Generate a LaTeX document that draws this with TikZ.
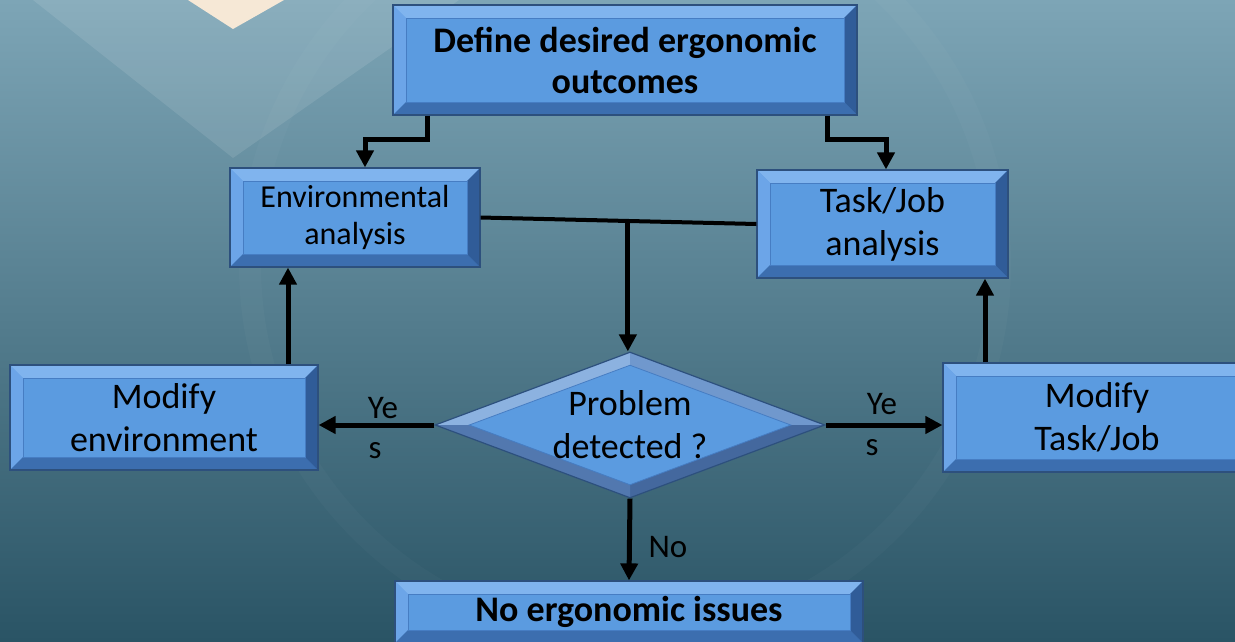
\documentclass[tikz,border=0pt]{standalone}
\usepackage{fontspec}
\setmainfont{Carlito}
\usetikzlibrary{shapes.geometric,arrows.meta,calc}

% palette
\definecolor{face}{RGB}{91,155,224}
\definecolor{facerim}{RGB}{70,125,195}
\definecolor{bvtop}{RGB}{128,180,238}
\definecolor{bvleft}{RGB}{108,165,232}
\definecolor{bvbot}{RGB}{60,110,175}
\definecolor{bvright}{RGB}{48,92,152}
\definecolor{rim}{RGB}{45,80,125}
\definecolor{dtop}{RGB}{140,178,224}
\definecolor{dtopr}{RGB}{112,152,205}
\definecolor{dbot}{RGB}{68,104,158}
\definecolor{dbotl}{RGB}{82,120,175}
\definecolor{bgtop}{RGB}{125,165,182}
\definecolor{bgmid}{RGB}{82,128,146}
\definecolor{bgbot}{RGB}{42,84,101}
\definecolor{cream}{RGB}{246,232,214}

\tikzset{
  % raised rectangle: four sloped facets around a flat face
  bevel/.style={path picture={
    \path (path picture bounding box.north west) coordinate (pNW)
          (path picture bounding box.north east) coordinate (pNE)
          (path picture bounding box.south west) coordinate (pSW)
          (path picture bounding box.south east) coordinate (pSE);
    \fill[bvtop] (pNW) -- (pNE) -- ($(pNE)+(-#1,-#1)$) -- ($(pNW)+(#1,-#1)$) -- cycle;
    \fill[bvleft] (pNW) -- (pSW) -- ($(pSW)+(#1,#1)$) -- ($(pNW)+(#1,-#1)$) -- cycle;
    \fill[bvbot] (pSW) -- (pSE) -- ($(pSE)+(-#1,#1)$) -- ($(pSW)+(#1,#1)$) -- cycle;
    \fill[bvright] (pNE) -- (pSE) -- ($(pSE)+(-#1,#1)$) -- ($(pNE)+(-#1,-#1)$) -- cycle;
    \draw[facerim, line width=0.8pt] ($(pNW)+(#1,-#1)$) rectangle ($(pSE)+(-#1,#1)$);
  }},
  % raised diamond
  dbevel/.style={path picture={
    \path (path picture bounding box.north) coordinate (dN)
          (path picture bounding box.south) coordinate (dS)
          (path picture bounding box.east) coordinate (dE)
          (path picture bounding box.west) coordinate (dW);
    \path ($(dN)+(0,-13pt)$) coordinate (iN)
          ($(dS)+(0,13pt)$) coordinate (iS)
          ($(dE)+(-34pt,0)$) coordinate (iE)
          ($(dW)+(34pt,0)$) coordinate (iW);
    \fill[dtop] (dW) -- (dN) -- (iN) -- (iW) -- cycle;
    \fill[dtopr] (dN) -- (dE) -- (iE) -- (iN) -- cycle;
    \fill[dbot] (dE) -- (dS) -- (iS) -- (iE) -- cycle;
    \fill[dbotl] (dS) -- (dW) -- (iW) -- (iS) -- cycle;
    \draw[facerim, line width=0.8pt] (iN) -- (iE) -- (iS) -- (iW) -- cycle;
  }},
  box/.style={rectangle, draw=rim, line width=1.2pt, fill=face,
    align=center, inner sep=0pt, bevel=13pt},
  conn/.style={line width=5pt, -{Triangle[length=17pt,width=17pt]}},
  lbl/.style={inner sep=0pt, font=\fontsize{33}{40}\selectfont},
}

\begin{document}
\begin{tikzpicture}[x=1pt,y=-1pt]
\clip (0,0) rectangle (1235,641);
\useasboundingbox (0,0) rectangle (1235,641);

% backdrop
\shade[top color=bgtop, middle color=bgmid, bottom color=bgbot] (0,0) rectangle (1235,641);
\fill[white, opacity=0.10] (33,0) -- (233,158) -- (459,0) -- cycle;
\draw[white, opacity=0.025, line width=22pt] (625,265) circle (375);
\fill[cream] (188,0) -- (233,29) -- (284,0) -- cycle;

% boxes
\node[box, minimum width=464, minimum height=110,
      font=\bfseries\fontsize{36}{41}\selectfont] (goal) at (625,60)
      {Define desired ergonomic\\outcomes};
\node[box, minimum width=250, minimum height=99,
      font=\fontsize{32}{37}\selectfont] (env) at (355,217.5)
      {Environmental\\analysis};
\node[box, minimum width=251, minimum height=108,
      font=\fontsize{36}{43}\selectfont] (task) at (882.5,224)
      {Task/Job\\analysis};
\node[box, minimum width=308, minimum height=105,
      font=\fontsize{36}{43}\selectfont] (modenv) at (164,417.5)
      {Modify\\environment};
\node[box, minimum width=308, minimum height=109,
      font=\fontsize{36}{43}\selectfont] (modtask) at (1097,417.5)
      {Modify\\Task/Job};
\node[diamond, aspect=2.67, draw=rim, line width=1.2pt, fill=face, inner sep=0pt,
      minimum width=390, minimum height=146, align=center, dbevel,
      font=\fontsize{36}{43}\selectfont] (dec) at (630,425)
      {Problem\\detected ?};
\node[box, minimum width=468, minimum height=62,
      font=\bfseries\fontsize{36}{41}\selectfont] (done) at (629,612)
      {No ergonomic issues};

% connectors
\draw[conn] ([xshift=-198]goal.south) -- ++(0,24) -| ([xshift=10]env.north);
\draw[conn] ([xshift=202]goal.south) -- ++(0,24) -| ([xshift=3.5]task.north);
\draw[line width=4pt] (env.east) -- (task.west);
\coordinate (join) at ($(env.east)!0.534!(task.west)$);
\draw[conn] (join) -- (join |- dec.north);
\draw[conn] (dec.west) -- (dec.west -| modenv.east);
\draw[conn] (dec.east) -- (dec.east -| modtask.west);
\draw[conn] ([xshift=124]modenv.north) coordinate (upL) -- (upL |- env.south);
\draw[conn] ([xshift=-112]modtask.north) coordinate (upR) -- (upR |- task.south);
\draw[conn] (dec.south) -- (done.north);

% branch labels
\node[lbl] (yesLa) at (383,408) {Ye};
\node[lbl] (yesLb) at (375,451) {s};
\node[lbl] (yesRa) at (882,404) {Ye};
\node[lbl] (yesRb) at (872,448) {s};
\node[lbl] (noLbl) at (668,547) {No};
\end{tikzpicture}
\end{document}
